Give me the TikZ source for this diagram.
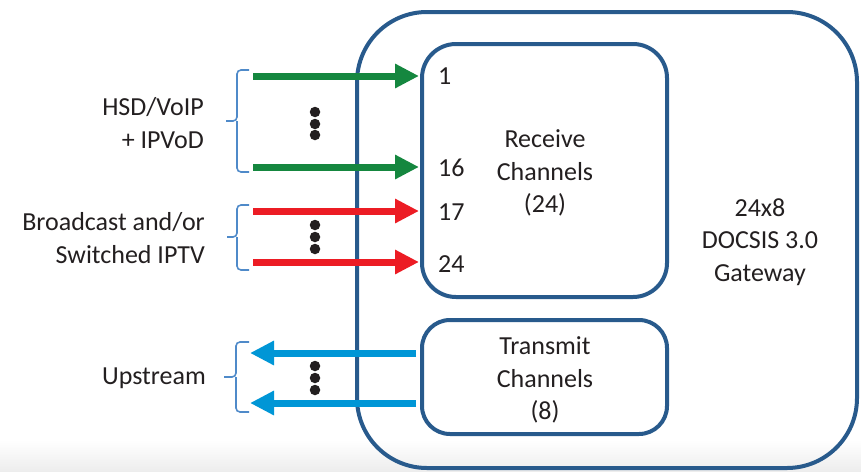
\documentclass[tikz,border=0pt]{standalone}
\usepackage{fontspec}
\setmainfont{Carlito}
\usetikzlibrary{arrows.meta}
\definecolor{boxblue}{HTML}{285A8C}
\definecolor{agreen}{HTML}{15873F}
\definecolor{ared}{HTML}{EC1C24}
\definecolor{ablue}{HTML}{0096D6}
\definecolor{brace}{HTML}{4F8AC9}
\definecolor{txt}{HTML}{231F20}
\tikzset{
  frame/.style={draw=boxblue, line width=4pt},
  fat/.style={line width=7pt, -{Triangle[length=24pt,width=23pt]}},
  lbl/.style={text=txt, font=\fontsize{26}{32.5}\selectfont, inner sep=0pt},
  dot/.style={circle, fill=txt, inner sep=0pt, minimum size=10.5pt},
  brc/.style={draw=brace, line width=1.6pt, rounded corners=4pt},
}
\begin{document}
\begin{tikzpicture}[x=1pt,y=-1pt]
\useasboundingbox (0,0) rectangle (861,471);
\shade[top color=white, bottom color=black!7] (0,440) rectangle (861,471);
% boxes
\draw[frame, rounded corners=70pt] (357,12) rectangle (857,468);
\draw[frame, rounded corners=34pt] (422,44) rectangle (667,297);
\draw[frame, rounded corners=28pt] (422,320) rectangle (667,434);
\node[lbl, align=center] (rx) at (545,173) {Receive\\Channels\\(24)};
\node[lbl, align=center] (tx) at (545,380) {Transmit\\Channels\\(8)};
\node[lbl, align=center] (gw) at (760,242) {24x8\\DOCSIS 3.0\\Gateway};
% channel numbers
\node[lbl, anchor=west] (n1) at (438,76) {1};
\node[lbl, anchor=west] (n16) at (438,168) {16};
\node[lbl, anchor=west] (n17) at (438,212) {17};
\node[lbl, anchor=west] (n24) at (438,264) {24};
% arrow endpoints
\coordinate (g1s) at (253,76);  \coordinate (g1e) at (419,76);
\coordinate (g2s) at (253,167); \coordinate (g2e) at (419,167);
\coordinate (r1s) at (253,211); \coordinate (r1e) at (419,211);
\coordinate (r2s) at (253,262); \coordinate (r2e) at (419,262);
\coordinate (b1s) at (416,353); \coordinate (b1e) at (250,353);
\coordinate (b2s) at (416,403); \coordinate (b2e) at (250,403);
\draw[fat, agreen] (g1s) -- (g1e);
\draw[fat, agreen] (g2s) -- (g2e);
\draw[fat, ared] (r1s) -- (r1e);
\draw[fat, ared] (r2s) -- (r2e);
\draw[fat, ablue] (b1s) -- (b1e);
\draw[fat, ablue] (b2s) -- (b2e);
% dots
\foreach \y [count=\i] in {112,124,135} \node[dot] (gd\i) at (315,\y) {};
\foreach \y [count=\i] in {225,237,249} \node[dot] (rd\i) at (315,\y) {};
\foreach \y [count=\i] in {366,378,390} \node[dot] (bd\i) at (315,\y) {};
% braces
\draw[brc] (249,70) -- (237,70) -- (237,121) -- (226,121);
\draw[brc] (237,121) -- (237,172) -- (249,172);
\draw[brc] (249,205) -- (237,205) -- (237,237) -- (227,237);
\draw[brc] (237,237) -- (237,270) -- (249,270);
\draw[brc] (249,342) -- (236,342) -- (236,377) -- (224,377);
\draw[brc] (236,377) -- (236,412) -- (249,412);
% side labels
\node[lbl, align=right, anchor=east] (hsd) at (204,123) {HSD/VoIP\\+ IPVoD};
\node[lbl, align=right, anchor=east] (bc) at (205,238) {Broadcast and/or\\Switched IPTV};
\node[lbl, anchor=east] (up) at (206,378) {Upstream};
\end{tikzpicture}
\end{document}
